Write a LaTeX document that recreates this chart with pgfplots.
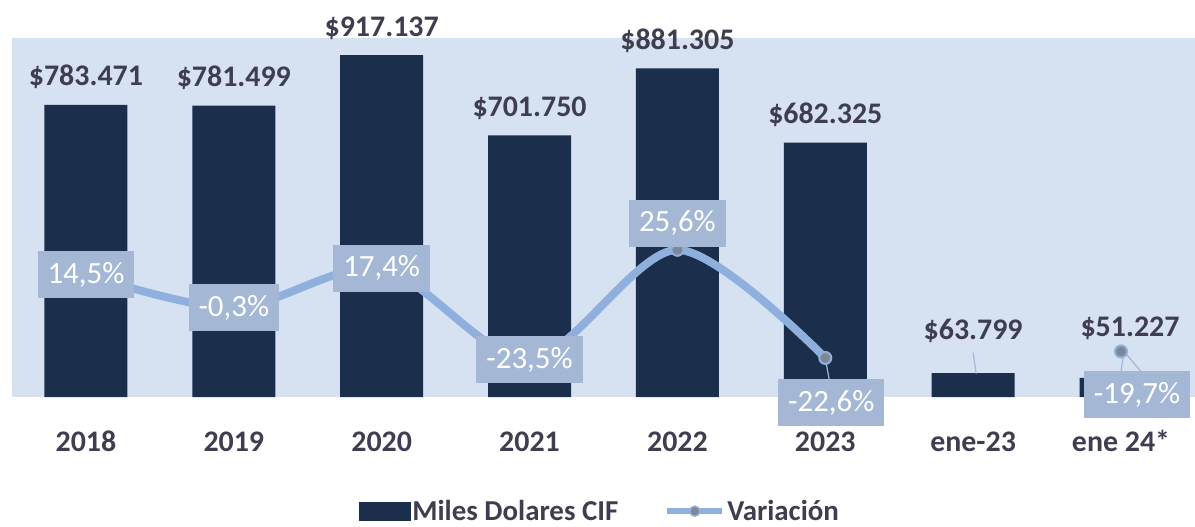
\documentclass[border=0pt]{standalone}
\usepackage{fontspec}
\setmainfont{Carlito}
\usepackage{pgfplots}
\pgfplotsset{compat=1.18}
\definecolor{bg}{HTML}{D6E1F1}
\definecolor{navy}{HTML}{1B2E4B}
\definecolor{linec}{HTML}{8FB0DD}
\definecolor{markc}{HTML}{7F8796}
\definecolor{lbl}{HTML}{A4B8D6}
\definecolor{txt}{HTML}{3E3E50}
\newcommand{\bigf}{\fontsize{30}{36}\selectfont}
\newcommand{\pctf}{\fontsize{31}{37}\selectfont}
\begin{document}
\begin{tikzpicture}
\path[use as bounding box] (-12bp,-130bp) rectangle (1183bp,397bp);
\begin{axis}[
  scale only axis, width=1183bp, height=359bp,
  xmin=-0.5, xmax=7.5, ymin=0, ymax=963000,
  clip=false,
  axis background/.style={fill=bg},
  axis line style={draw=none},
  ytick=\empty,
  xtick={0,1,2,3,4,5,6,7},
  xticklabels={2018,2019,2020,2021,2022,2023,ene-23,ene 24*},
  major tick length=0pt,
  xticklabel style={font=\bfseries\bigf, text=txt, anchor=base, yshift=-54bp},
]
\addplot[ybar, bar width=83bp, fill=navy, draw=none] coordinates {
  (0,783471) (1,781499) (2,917137) (3,701750) (4,881305) (5,682325) (6,63799) (7,51227)};
\addplot[draw=none, mark=none, nodes near coords, point meta=explicit symbolic,
  every node near coord/.style={anchor=base, yshift=19bp, font=\bfseries\bigf, text=txt}]
  coordinates {(0,783471) [\$783.471] (1,781499) [\$781.499] (2,917137) [\$917.137]
   (3,701750) [\$701.750] (4,881305) [\$881.305] (5,682325) [\$682.325]};
\addplot[draw=none, mark=none, nodes near coords, point meta=explicit symbolic,
  every node near coord/.style={anchor=base, yshift=34bp, font=\bfseries\bigf, text=txt}]
  coordinates {(6,63799) [\$63.799]};
\addplot[draw=none, mark=none, nodes near coords, point meta=explicit symbolic,
  every node near coord/.style={anchor=base, yshift=41bp, xshift=9bp, font=\bfseries\bigf, text=txt}]
  coordinates {(7,51227) [\$51.227]};
\end{axis}
\begin{axis}[
  scale only axis, width=1183bp, height=359bp,
  xmin=-0.5, xmax=7.5, ymin=-40, ymax=120,
  clip=false,
  axis line style={draw=none},
  xtick=\empty, ytick=\empty,
  legend style={at={(0.497,-0.318)}, anchor=center, draw=none, fill=none,
    font=\bfseries\fontsize{29}{34}\selectfont, text=txt,
    legend columns=2, /tikz/every even column/.append style={column sep=44bp},
    legend cell align=left},
]
\addlegendimage{legend image code/.code={\fill[navy] (0bp,-9bp) rectangle (51bp,9bp);}}
\addlegendentry{Miles Dolares CIF}
\addlegendimage{legend image code/.code={\draw[draw=linec, /tikz/line width=6bp] (0bp,0bp)--(55bp,0bp);
   \filldraw[fill=markc, draw=linec, /tikz/line width=1.5bp] (27.5bp,0bp) circle (5bp);}}
\addlegendentry{Variación}
% leader lines
\draw[lbl, line width=1.2bp] (axis cs:5,-22.6) -- ++(4bp,-22bp);
\draw[lbl, line width=1.2bp] (axis cs:6,-20.2) -- ++(3bp,-21bp);
\draw[lbl, line width=1.2bp] (axis cs:7,-19.7) ++(3bp,0bp) -- ++(-3bp,-20bp);
\draw[lbl, line width=1.2bp] (axis cs:7,-19.7) ++(3bp,0bp) -- ++(17bp,-20bp);
\addplot[forget plot, mark=none, smooth, color=linec, /tikz/line width=8bp]
  coordinates {(0,14.5) (1,-0.3) (2,17.4) (3,-23.5) (4,25.6) (5,-22.6)};
\addplot[forget plot, only marks, mark=*,
  mark options={fill=markc, draw=linec, /tikz/line width=2bp}, mark size=6bp]
  coordinates {(0,14.5) (1,-0.3) (2,17.4) (3,-23.5) (4,25.6) (5,-22.6) (7,-19.7)};
\addplot[forget plot, draw=none, mark=none, nodes near coords, point meta=explicit symbolic,
  every node near coord/.style={anchor=center, fill=lbl, text=white, font=\pctf,
    minimum height=47bp, inner xsep=10bp, inner ysep=0bp}]
  coordinates {(0,14.5) [14,5\%] (1,-0.3) [-0,3\%] (2,17.4) [17,4\%] (3,-23.5) [-23,5\%]};
\addplot[forget plot, draw=none, mark=none, nodes near coords, point meta=explicit symbolic,
  every node near coord/.style={anchor=south, yshift=3bp, fill=lbl, text=white, font=\pctf,
    minimum height=47bp, inner xsep=10bp, inner ysep=0bp}]
  coordinates {(4,25.6) [25,6\%]};
\addplot[forget plot, draw=none, mark=none, nodes near coords, point meta=explicit symbolic,
  every node near coord/.style={anchor=center, xshift=6bp, yshift=-45bp, fill=lbl, text=white, font=\pctf,
    minimum height=47bp, inner xsep=10bp, inner ysep=0bp}]
  coordinates {(5,-22.6) [-22,6\%]};
\addplot[forget plot, draw=none, mark=none, nodes near coords, point meta=explicit symbolic,
  every node near coord/.style={anchor=center, xshift=16bp, yshift=-43bp, fill=lbl, text=white, font=\pctf,
    minimum height=47bp, inner xsep=10bp, inner ysep=0bp}]
  coordinates {(7,-19.7) [-19,7\%]};
\end{axis}
\end{tikzpicture}
\end{document}
